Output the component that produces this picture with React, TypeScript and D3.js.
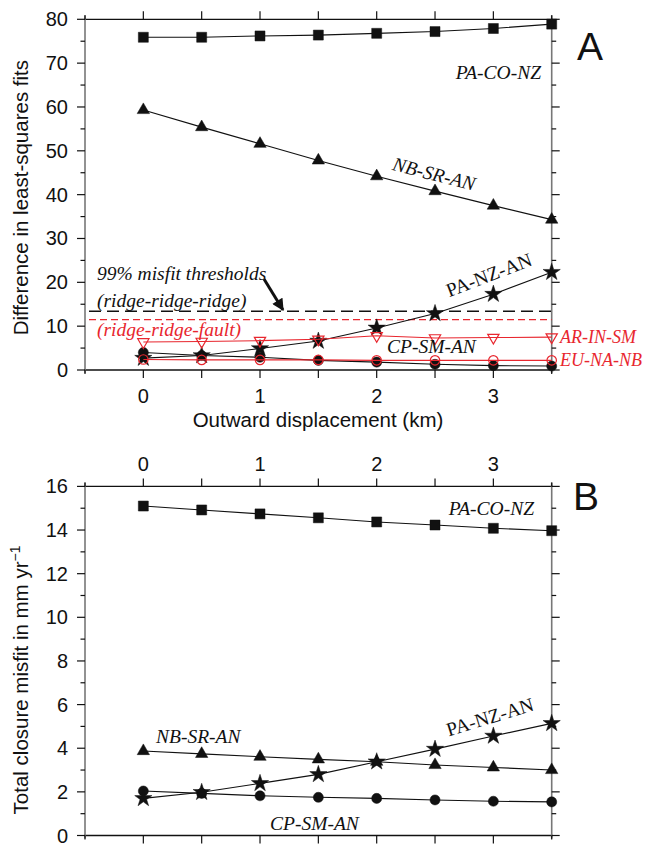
import React from "react";
import * as d3 from "d3";

const W = 646;
const H = 846;

// Outward displacement (km)
const disp = [0, 0.5, 1, 1.5, 2, 2.5, 3, 3.5];

// Panel A: difference in least-squares fits
const aPaCoNz = [75.9, 75.9, 76.2, 76.4, 76.8, 77.2, 77.9, 78.9];
const aNbSrAn = [59.3, 55.4, 51.6, 47.8, 44.2, 40.8, 37.5, 34.3];
const aPaNzAn = [2.7, 3.3, 4.9, 6.6, 9.6, 12.9, 17.3, 22.3];
const aCpSmAn = [4.0, 3.3, 2.9, 2.2, 1.8, 1.3, 1.0, 0.9];
const aArInSm = [6.4, 6.5, 6.7, 7.0, 7.8, 7.3, 7.4, 7.5];
const aEuNaNb = [2.4, 2.3, 2.3, 2.3, 2.2, 2.2, 2.2, 2.2];
const thresholdRRR = 13.4;
const thresholdRRF = 11.5;

// Panel B: total closure misfit (mm/yr)
const bPaCoNz = [15.1, 14.92, 14.74, 14.56, 14.37, 14.23, 14.08, 13.97];
const bNbSrAn = [3.87, 3.74, 3.61, 3.49, 3.38, 3.23, 3.12, 3.0];
const bPaNzAn = [1.7, 1.98, 2.39, 2.8, 3.38, 3.96, 4.56, 5.14];
const bCpSmAn = [2.04, 1.93, 1.82, 1.75, 1.7, 1.63, 1.57, 1.54];

const xTickLabels = [0, 1, 2, 3];
const xTicksAll = [-0.5, 0, 0.5, 1, 1.5, 2, 2.5, 3, 3.5];
const aYMajor = [0, 10, 20, 30, 40, 50, 60, 70, 80];
const aYMinor = [5, 15, 25, 35, 45, 55, 65, 75];
const bYMajor = [0, 2, 4, 6, 8, 10, 12, 14, 16];
const bYMinor = [1, 3, 5, 7, 9, 11, 13, 15];

const RED = "#e8262e";
const SANS = "'Liberation Sans', Arial, Helvetica, sans-serif";
const SERIF = "'Liberation Serif', 'Times New Roman', serif";

const x = d3.scaleLinear().domain([-0.5, 3.5]).range([85, 551.7]);
const yA = d3.scaleLinear().domain([0, 80]).range([370, 19.3]);
const yB = d3.scaleLinear().domain([0, 16]).range([835.5, 486.4]);

type Sym = "square" | "triangle" | "star" | "circle" | "invtri" | "ocircle";

const symPath = (s: Sym) => {
  switch (s) {
    case "square":
      return d3.symbol(d3.symbolSquare, 100)()!;
    case "triangle":
      return d3.symbol(d3.symbolTriangle, 66)()!;
    case "star":
      return d3.symbol(d3.symbolStar, 92)()!;
    case "circle":
      return d3.symbol(d3.symbolCircle, 80)()!;
    case "invtri":
      return d3.symbol(d3.symbolTriangle, 55)()!;
    case "ocircle":
      return d3.symbol(d3.symbolCircle, 70)()!;
  }
};

function Series({
  vals,
  y,
  sym,
  color,
}: {
  vals: number[];
  y: d3.ScaleLinear<number, number>;
  sym: Sym;
  color: string;
}) {
  const line = d3
    .line<number>()
    .x((_, i) => x(disp[i]))
    .y((v) => y(v));
  const p = symPath(sym);
  const open = sym === "invtri" || sym === "ocircle";
  return (
    <g>
      <path d={line(vals)!} fill="none" stroke={color} strokeWidth={1.1} />
      {vals.map((v, i) => (
        <path
          key={i}
          d={p}
          transform={`translate(${x(disp[i])},${y(v)})${sym === "invtri" ? " rotate(180)" : ""}`}
          fill={open ? "none" : color}
          stroke={color}
          strokeWidth={open ? 1.2 : 0.5}
        />
      ))}
    </g>
  );
}

function Frame({
  y,
  major,
  minor,
  top,
  bottom,
  labelTop,
}: {
  y: d3.ScaleLinear<number, number>;
  major: number[];
  minor: number[];
  top: number;
  bottom: number;
  labelTop: boolean;
}) {
  const L = x(-0.5);
  const R = x(3.5);
  return (
    <g>
      <line x1={L - 1} x2={R + 1} y1={top} y2={top} stroke="#111" strokeWidth={1.3} />
      <line x1={L - 1} x2={R + 1} y1={bottom} y2={bottom} stroke="#111" strokeWidth={1.3} />
      <line x1={L} x2={L} y1={top - 4} y2={bottom + 3} stroke="#777" strokeWidth={1.6} />
      <line x1={R} x2={R} y1={top - 4} y2={bottom + 3} stroke="#777" strokeWidth={1.6} />
      {xTicksAll.map((t) => {
        const len = t === -0.5 || t === 3.5 ? 4 : 8;
        return (
          <g key={t}>
            <line x1={x(t)} x2={x(t)} y1={top} y2={top - len} stroke="#111" strokeWidth={1.2} />
            <line x1={x(t)} x2={x(t)} y1={bottom} y2={bottom + len} stroke="#111" strokeWidth={1.2} />
          </g>
        );
      })}
      {major.map((t) => (
        <g key={"M" + t}>
          <line x1={L} x2={L - 8} y1={y(t)} y2={y(t)} stroke="#111" strokeWidth={1.2} />
          <line x1={R} x2={R + 8} y1={y(t)} y2={y(t)} stroke="#111" strokeWidth={1.2} />
          <text x={L - 17} y={y(t) + 7} textAnchor="end" fontFamily={SANS} fontSize={20} fill="#111">
            {t}
          </text>
        </g>
      ))}
      {minor.map((t) => (
        <g key={"m" + t}>
          <line x1={L} x2={L - 4.5} y1={y(t)} y2={y(t)} stroke="#111" strokeWidth={1.2} />
          <line x1={R} x2={R + 4.5} y1={y(t)} y2={y(t)} stroke="#111" strokeWidth={1.2} />
        </g>
      ))}
      {xTickLabels.map((t) => (
        <text
          key={"xl" + t}
          x={x(t)}
          y={labelTop ? top - 15 : bottom + 33}
          textAnchor="middle"
          fontFamily={SANS}
          fontSize={20}
          fill="#111"
        >
          {t}
        </text>
      ))}
    </g>
  );
}

const ital = { fontFamily: SERIF, fontStyle: "italic" as const, fontSize: 19.5, fill: "#111" };

export default function App() {
  const topA = yA(80);
  const botA = yA(0);
  const topB = yB(16);
  const botB = yB(0);
  return (
    <svg
      width={W}
      height={H}
      viewBox={`0 0 ${W} ${H}`}
      style={{ position: "absolute", left: 0, top: 0, background: "#fff" }}
    >
      <rect width={W} height={H} fill="#fff" />
      <defs>
        <marker id="ah" viewBox="0 0 10 10" refX="9" refY="5" markerWidth="4.2" markerHeight="4" orient="auto" markerUnits="strokeWidth">
          <path d="M0,0 L10,5 L0,10 z" fill="#111" />
        </marker>
      </defs>

      {/* ===== Panel A ===== */}
      <Frame y={yA} major={aYMajor} minor={aYMinor} top={topA} bottom={botA} labelTop={false} />

      <line x1={x(-0.5) + 4} x2={x(3.5)} y1={yA(thresholdRRR)} y2={yA(thresholdRRR)} stroke="#111" strokeWidth={1.7} strokeDasharray="12 6" />
      <line x1={x(-0.5) + 4} x2={x(3.5)} y1={yA(thresholdRRF)} y2={yA(thresholdRRF)} stroke={RED} strokeWidth={1.1} strokeDasharray="7 4" />

      <Series vals={aPaCoNz} y={yA} sym="square" color="#111" />
      <Series vals={aNbSrAn} y={yA} sym="triangle" color="#111" />
      <Series vals={aCpSmAn} y={yA} sym="circle" color="#111" />
      <Series vals={aPaNzAn} y={yA} sym="star" color="#111" />
      <Series vals={aArInSm} y={yA} sym="invtri" color={RED} />
      <Series vals={aEuNaNb} y={yA} sym="ocircle" color={RED} />

      <line x1={264} y1={279} x2={283} y2={310} stroke="#111" strokeWidth={3} markerEnd="url(#ah)" />

      <text x={541} y={78.5} textAnchor="end" {...ital}>PA-CO-NZ</text>
      <g transform="translate(434,174) rotate(14.3)">
        <text x={0} y={6.5} textAnchor="middle" {...ital}>NB-SR-AN</text>
      </g>
      <g transform="translate(489,275) rotate(-21)">
        <text x={0} y={6.5} textAnchor="middle" fontFamily={SERIF} fontSize={19.5} fill="#111">PA-NZ-AN</text>
      </g>
      <text x={97} y={280} {...ital}>99% misfit thresholds</text>
      <text x={97} y={307} {...ital}>(ridge-ridge-ridge)</text>
      <text x={97} y={335.5} {...ital} fill={RED}>(ridge-ridge-fault)</text>
      <text x={387} y={353} {...ital}>CP-SM-AN</text>
      <text x={560} y={343} {...ital} fontSize={18} fill={RED}>AR-IN-SM</text>
      <text x={560} y={365.5} {...ital} fontSize={18} fill={RED}>EU-NA-NB</text>

      <text x={590} y={60} textAnchor="middle" fontFamily={SANS} fontSize={39} fill="#111">A</text>

      <text x={318} y={427} textAnchor="middle" fontFamily={SANS} fontSize={20.5} fill="#111">
        Outward displacement (km)
      </text>
      <text
        transform={`translate(28,${(topA + botA) / 2 + 3}) rotate(-90)`}
        textAnchor="middle"
        fontFamily={SANS}
        fontSize={20.5}
        fill="#111"
      >
        Difference in least-squares fits
      </text>

      {/* ===== Panel B ===== */}
      <Frame y={yB} major={bYMajor} minor={bYMinor} top={topB} bottom={botB} labelTop={true} />

      <Series vals={bPaCoNz} y={yB} sym="square" color="#111" />
      <Series vals={bNbSrAn} y={yB} sym="triangle" color="#111" />
      <Series vals={bCpSmAn} y={yB} sym="circle" color="#111" />
      <Series vals={bPaNzAn} y={yB} sym="star" color="#111" />

      <text x={534} y={514.5} textAnchor="end" {...ital}>PA-CO-NZ</text>
      <text x={156} y={743} {...ital}>NB-SR-AN</text>
      <g transform="translate(490,717) rotate(-17)">
        <text x={0} y={6.5} textAnchor="middle" fontFamily={SERIF} fontSize={19.5} fill="#111">PA-NZ-AN</text>
      </g>
      <text x={270} y={829.5} {...ital}>CP-SM-AN</text>

      <text x={586} y={510} textAnchor="middle" fontFamily={SANS} fontSize={39} fill="#111">B</text>

      <text
        transform={`translate(28,680) rotate(-90)`}
        textAnchor="middle"
        fontFamily={SANS}
        fontSize={20.5}
        fill="#111"
      >
        Total closure misfit in mm yr
        <tspan dy={-8} fontSize={14}>−1</tspan>
      </text>
    </svg>
  );
}
